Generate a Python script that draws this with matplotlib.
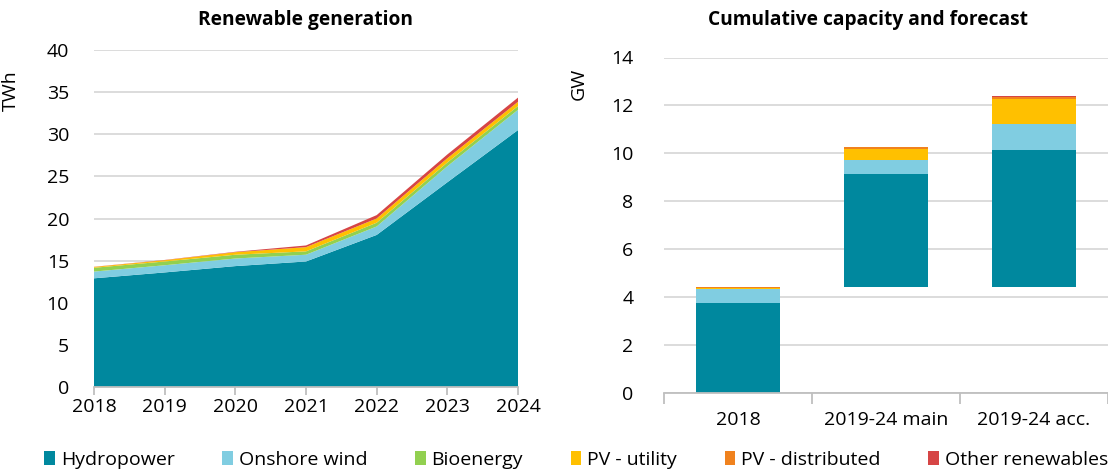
import matplotlib
matplotlib.use("Agg")
import matplotlib.pyplot as plt
from matplotlib.patches import Patch
import numpy as np

plt.rcParams['font.family'] = ['Open Sans', 'DejaVu Sans']

# ---- Data: renewable generation (TWh) ----
years = [2018, 2019, 2020, 2021, 2022, 2023, 2024]
hydro_gen = [12.9, 13.6, 14.35, 14.9, 18.05, 24.3, 30.5]
wind_gen = [0.8, 0.85, 0.9, 0.8, 1.0, 1.9, 2.4]
bio_gen = [0.45, 0.45, 0.45, 0.4, 0.45, 0.45, 0.45]
pvu_gen = [0.1, 0.15, 0.3, 0.5, 0.5, 0.5, 0.5]
pvd_gen = [0.0, 0.0, 0.0, 0.0, 0.0, 0.0, 0.0]
oth_gen = [0.02, 0.03, 0.05, 0.2, 0.4, 0.45, 0.5]

# ---- Data: cumulative capacity (GW) ----
cap_cats = ["2018", "2019-24 main", "2019-24 acc."]
hydro_cap = [3.76, 4.71, 5.69]
wind_cap = [0.56, 0.59, 1.09]
bio_cap = [0.01, 0.0, 0.0]
pvu_cap = [0.04, 0.46, 1.04]
pvd_cap = [0.06, 0.07, 0.11]
oth_cap = [0.0, 0.01, 0.02]

labels = ["Hydropower", "Onshore wind", "Bioenergy", "PV - utility",
          "PV - distributed", "Other renewables"]
colors = ["#00889E", "#80CDE1", "#92D050", "#FFC000", "#F0821E", "#D64545"]

grid_c = "#D9D9D9"
axis_c = "#BFBFBF"
fs = 14

fig = plt.figure(figsize=(11.08, 4.75), dpi=100)

# ---------- Left: area chart ----------
ax1 = fig.add_axes([94/1108, 1-387/475, (518-94)/1108, (387-50)/475])
ax1.stackplot(years, hydro_gen, wind_gen, bio_gen, pvu_gen, pvd_gen, oth_gen,
              colors=colors, linewidth=0)
ax1.set_xlim(2018, 2024)
ax1.set_ylim(0, 40)
ax1.set_yticks(range(0, 41, 5))
ax1.set_xticks(years)
ax1.yaxis.grid(True, color=grid_c, linewidth=1.3)
ax1.set_axisbelow(True)
for s in ["top", "right", "left"]:
    ax1.spines[s].set_visible(False)
ax1.spines["bottom"].set_color(axis_c)
ax1.spines["bottom"].set_linewidth(1.3)
ax1.spines["bottom"].set_zorder(5)
ax1.tick_params(axis="y", length=0, labelsize=fs, pad=18)
ax1.tick_params(axis="x", length=6, color=axis_c, width=1.3, labelsize=fs, pad=2)
ax1.set_ylabel("TWh", fontsize=fs)
ax1.yaxis.set_label_coords(-0.175, 0.88)
fig.text(306/1108, 1-20/475, "Renewable generation", ha="center", va="center",
         fontsize=13.8, fontweight="bold")

# ---------- Right: floating stacked bars ----------
ax2 = fig.add_axes([664/1108, 1-393/475, (1108-664)/1108, (393-57.5)/475])
x = np.arange(len(cap_cats))
series = [hydro_cap, wind_cap, bio_cap, pvu_cap, pvd_cap, oth_cap]
base2018 = sum(s[0] for s in series)
bottoms = np.array([0.0, base2018, base2018])
for vals, c in zip(series, colors):
    ax2.bar(x, vals, bottom=bottoms, width=0.57, color=c, linewidth=0)
    bottoms = bottoms + np.array(vals)
ax2.set_xlim(-0.5, 2.46)
ax2.set_ylim(0, 14)
ax2.set_yticks(range(0, 15, 2))
ax2.set_xticks(x)
ax2.set_xticklabels(cap_cats)
ax2.set_xticks([-0.5, 0.5, 1.5, 2.5], minor=True)
ax2.yaxis.grid(True, color=grid_c, linewidth=1.3)
ax2.set_axisbelow(True)
for s in ["top", "right", "left"]:
    ax2.spines[s].set_visible(False)
ax2.spines["bottom"].set_color(axis_c)
ax2.spines["bottom"].set_linewidth(1.3)
ax2.tick_params(axis="y", length=0, labelsize=fs, pad=22)
ax2.tick_params(axis="x", which="major", length=0, labelsize=fs, pad=13)
ax2.tick_params(axis="x", which="minor", length=8, color=axis_c, width=1.3)
ax2.set_ylabel("GW", fontsize=fs)
ax2.yaxis.set_label_coords(-0.172, 0.92)
fig.text(868/1108, 1-20/475, "Cumulative capacity and forecast", ha="center",
         va="center", fontsize=13.8, fontweight="bold")

# ---------- Legend ----------
handles = [Patch(facecolor=c, edgecolor="none") for c in colors]
fig.legend(handles, labels, loc="center", bbox_to_anchor=(0.52, 1-460/475),
           ncol=6, frameon=False, fontsize=fs, handlelength=0.55,
           handleheight=0.75, handletextpad=0.3, columnspacing=2.45)

fig.savefig("out.png", dpi=100)
